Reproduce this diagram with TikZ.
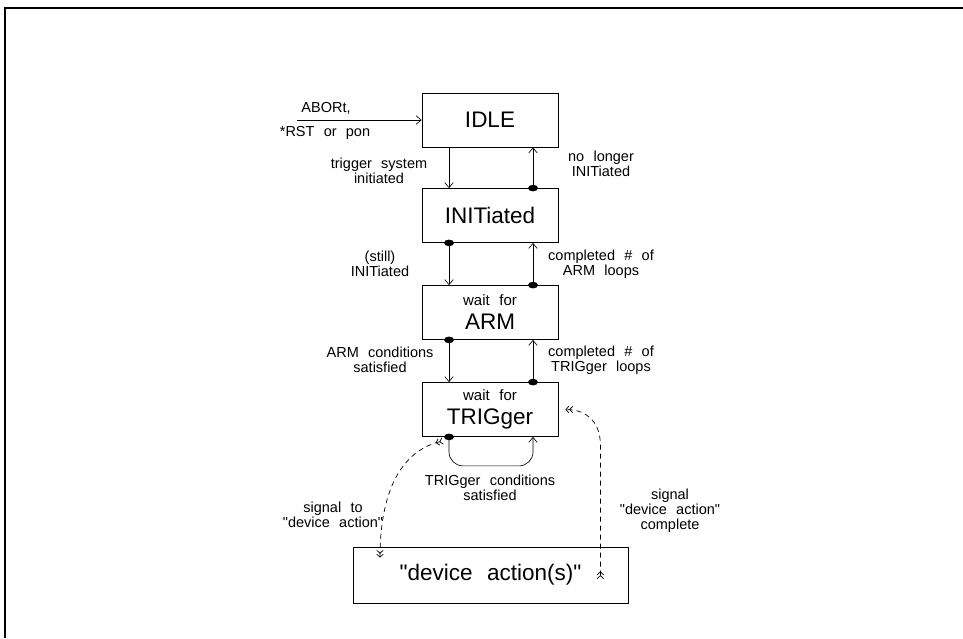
\documentclass[tikz,border=0pt]{standalone}
\usepackage{fontspec}
\newfontfamily\labelfont{Liberation Sans}[WordSpace=2.3]
\usetikzlibrary{arrows.meta}

\newcommand\bigfont{\labelfont\fontsize{22.5}{24}\selectfont}
\newcommand\midfont{\labelfont\fontsize{15}{17}\selectfont}

\tikzset{
  statebox/.style={draw, line width=0.8pt, minimum width=136pt, minimum height=54pt,
    inner sep=0pt, align=center, font=\bigfont},
  lbl/.style={align=center, inner sep=0pt},
  sig/.style={dash pattern=on 5pt off 4pt, line width=0.7pt,
    arrows={{Straight Barb[reversed,length=3pt,width=6.5pt] Straight Barb[reversed,length=3pt,width=6.5pt]}-{Straight Barb[length=3pt,width=6.5pt] Straight Barb[length=3pt,width=6.5pt]}}},
}

\begin{document}
\begin{tikzpicture}[x=1pt,y=-1pt,>={Straight Barb[length=5pt,width=8.5pt]},
  font=\labelfont\fontsize{14.5}{15}\selectfont, line width=0.65pt]

\useasboundingbox (0,0) rectangle (963,638);

% --- frame (open on the right and at the bottom)
\draw[line width=1.2pt] (963,8) -- (5,8) -- (5,638);

% ================== States ==================
\node[statebox] (idle) at (490,120)   {IDLE};
\node[statebox] (init) at (490,215.5) {INITiated};
\node[statebox] (arm)  at (490,312.5) {{\midfont wait for}\\ARM};
\node[statebox] (trig) at (490,409.5) {{\midfont wait for}\\TRIGger};
\node[statebox, minimum width=275pt, minimum height=56pt] (dev) at (490.5,575)
  {"device action(s)"};

% --- entry from ABORt / *RST / pon
\coordinate (reset) at (297,120);
\draw[->] (reset) -- (idle.west);
\node[lbl] (abort) at (326,108) {ABORt,};
\node[lbl] (rst)   at (325,133) {*RST or pon};

% --- down (left) and up (right) transitions
\foreach \a/\b in {idle/init, init/arm, arm/trig}{
  \draw[->] ([xshift=-41pt]\a.south) -- ([xshift=-41pt]\b.north);
  \draw[->] ([xshift=43pt]\b.north) -- ([xshift=43pt]\a.south);
}

% --- dots where a transition leaves a state
\foreach \n in {init, arm, trig}{
  \fill ([xshift=-41pt]\n.south) ellipse (5 and 3.3);
  \fill ([xshift=43pt]\n.north) ellipse (5 and 3.3);
}

% --- TRIGger self loop
\draw[->, rounded corners=14pt] ([xshift=-41pt]trig.south) -- ++(0,29) -| ([xshift=43pt]trig.south);

% ================== Signals to / from the device ==================
\draw[sig] ([shift={(-47,4)}]trig.south) .. controls +(-48,12) and +(0,-55) .. ([shift={(-110.5,11)}]dev.north);
\draw[sig] ([shift={(-28,4)}]dev.east) -- ++(0,-134) .. controls +(0,-22) and +(22,0) .. ([shift={(7,0)}]trig.east);

% ================== Labels ==================
\node[lbl] (trigsys)   at (379,171) {trigger system\\initiated};
\node[lbl] (nolonger)  at (601,164) {no longer\\INITiated};
\node[lbl] (still)     at (380,264) {(still)\\INITiated};
\node[lbl] (armloops)  at (601,264) {completed \# of\\ARM loops};
\node[lbl] (armcond)   at (380,360) {ARM conditions\\satisfied};
\node[lbl] (trigloops) at (601,360) {completed \# of\\TRIGger loops};
\node[lbl] (trigcond)  at (490,488) {TRIGger conditions\\satisfied};
\node[lbl] (sigto)     at (333,515) {signal to\\"device action"};
\node[lbl] (sigdone)   at (670,511) {signal\\"device action"\\complete};

\end{tikzpicture}
\end{document}
